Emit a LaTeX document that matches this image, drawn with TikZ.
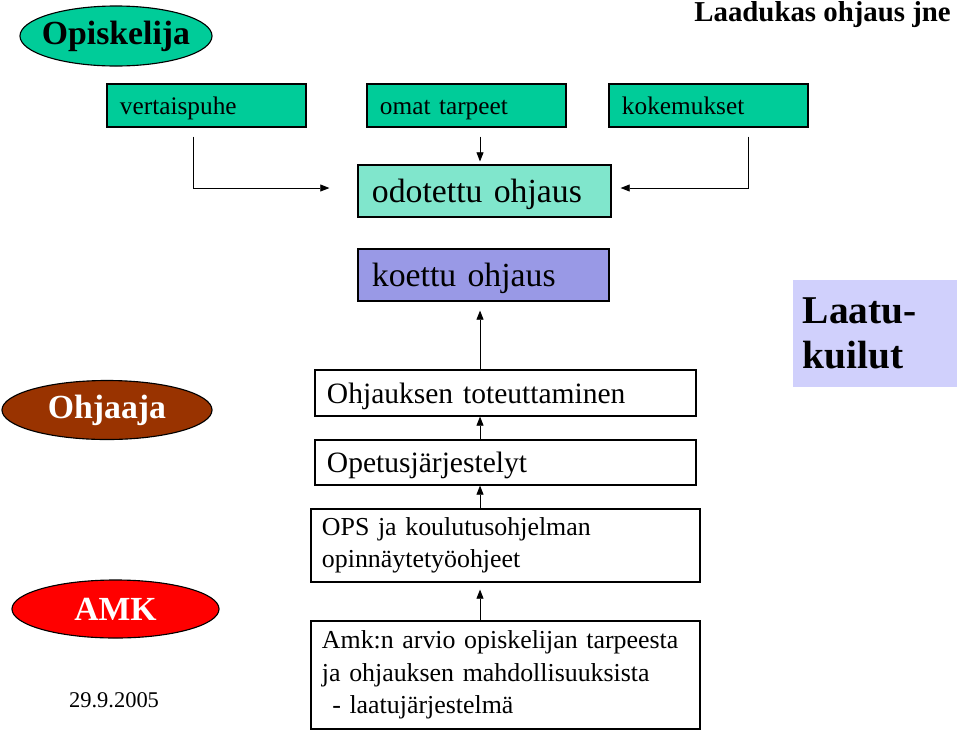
\documentclass[tikz,border=0pt]{standalone}
\usepackage{fontspec}
\setmainfont{Liberation Serif}
\usetikzlibrary{calc,shapes.geometric,arrows.meta,positioning}

\definecolor{teal1}{RGB}{0,204,153}
\definecolor{teal2}{RGB}{128,230,204}
\definecolor{lilac}{RGB}{153,153,230}
\definecolor{palelilac}{RGB}{208,208,252}
\definecolor{rust}{RGB}{153,51,0}

\begin{document}
\begin{tikzpicture}[x=0.025cm, y=-0.025cm, >={Triangle[length=6.5pt,width=5pt]},
  oval/.style={ellipse, draw, line width=0.8pt, inner sep=0pt, font=\fontsize{24}{28}\selectfont\bfseries},
  tbox/.style={draw, line width=0.8pt, fill=teal1, minimum width=4.975cm, minimum height=1.075cm,
    text width=4.325cm, align=left, inner xsep=0.325cm, text height=12.5pt, text depth=0pt,
    font=\fontsize{18}{22}\selectfont},
  bigbox/.style={draw, line width=0.8pt, minimum height=1.3cm, inner xsep=0.35cm, align=left,
    text height=17pt, text depth=0pt, font=\fontsize{24}{28}\selectfont},
  wbox/.style={draw, line width=0.8pt, fill=white, minimum width=9.525cm, minimum height=1.15cm,
    text width=8.925cm, inner xsep=0.3cm, align=left, text height=14.5pt, text depth=0pt,
    font=\fontsize{21}{25}\selectfont},
  tallbox/.style={draw, line width=0.8pt, minimum width=9.725cm, text width=9.175cm,
    inner xsep=0.275cm, align=left, font=\fontsize{18.4}{23}\selectfont},
  link/.style={->, line width=0.6pt}]

  \useasboundingbox (0,0) rectangle (960,732);

  % ===== Left column: actors =====
  \node[oval, fill=teal1, inner xsep=-5pt, minimum width=4.8cm, minimum height=1.5cm] (opis) at (116,36) {Opiskelija};
  \node[oval, fill=rust, text=white, minimum width=5.25cm, minimum height=1.475cm] (ohja) at (107,410) {Ohjaaja};
  \node[oval, fill=red, text=white, minimum width=5.175cm, minimum height=1.45cm] (amkE) at (115.5,609) {AMK};
  \node[font=\fontsize{16}{18}\selectfont] (date) at (114,700) {29.9.2005};

  % ===== Title and gap box =====
  \node[anchor=base east, inner sep=0pt, font=\fontsize{20.5}{24}\selectfont\bfseries] (title) at (951,21) {Laadukas ohjaus jne};
  \node[fill=palelilac, minimum width=4.1cm, minimum height=2.675cm, text width=3.6cm, inner xsep=0.25cm,
    align=left, font=\fontsize{28}{32}\selectfont\bfseries] (gap) at (875,333.5) {Laatu-\\kuilut};

  % ===== Top row: student inputs =====
  \node[tbox] (t1) at (206.5,105.5) {vertaispuhe};
  \node[tbox] (t2) at (466.5,105.5) {omat tarpeet};
  \node[tbox] (t3) at (708.5,105.5) {kokemukset};

  \node[bigbox, fill=teal2, minimum width=6.325cm, text width=5.625cm] (exp) at (484.5,191) {odotettu ohjaus};
  \node[bigbox, fill=lilac, minimum width=6.275cm, text width=5.575cm] (got) at (483.5,275) {koettu ohjaus};

  \draw[link] ($(t1.south)+(-13.5,9)$) |- ($(exp.west)+(-28,-3)$);
  \draw[link] ($(t3.south)+(39.5,9)$) |- ($(exp.east)+(9,-3)$);
  \coordinate (spine) at (480,0);
  \draw[link] ($(t2.south -| spine)+(0,9)$) -- ($(exp.north -| spine)+(0,-3)$);

  % ===== Centre column: chain upwards =====
  \node[wbox] (w1) at (505.5,393) {Ohjauksen toteuttaminen};
  \node[wbox, minimum height=1.125cm] (w2) at (505.5,462.5) {Opetusjärjestelyt};
  \node[tallbox, minimum height=1.825cm] (w3) at (505.5,545.5) {OPS ja koulutusohjelman\\opinnäytetyöohjeet};
  \node[tallbox, minimum height=2.7cm] (w4) at (505.5,675)
    {Amk:n arvio opiskelijan tarpeesta\\ja ohjauksen mahdollisuuksista\\\hspace*{0.4em}- laatujärjestelmä};

  \draw[link] (w1.north -| spine) -- ($(got.south -| spine)+(0,9)$);
  \draw[link] (w2.north -| spine) -- (w1.south -| spine);
  \draw[link] (w3.north -| spine) -- (w2.south -| spine);
  \draw[link] (w4.north -| spine) -- ($(w3.south -| spine)+(0,7)$);

\end{tikzpicture}
\end{document}
